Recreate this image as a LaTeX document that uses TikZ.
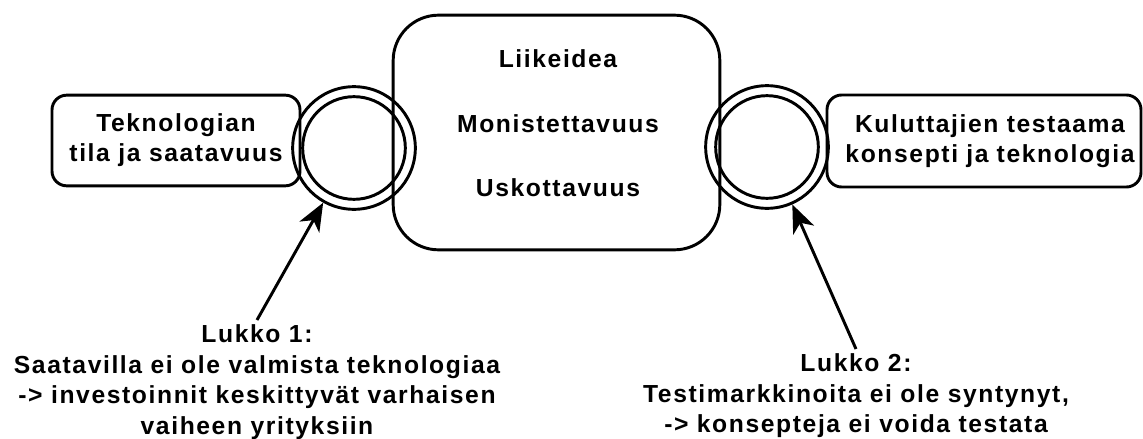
\documentclass[tikz,border=0pt]{standalone}
\usepackage{fontspec}
\setmainfont{Liberation Sans}[LetterSpace=6.5]
\usetikzlibrary{arrows.meta}

\begin{document}
\begin{tikzpicture}[x=0.75pt, y=-0.75pt,
  every node/.style={font=\bfseries\fontsize{18.5}{22.5}\selectfont, align=center},
  box/.style={draw, line width=2.2pt, rounded corners=11pt, inner sep=0pt},
  ringout/.style={draw, circle, line width=2.2pt, minimum size=92pt, inner sep=0pt},
  ringin/.style={draw, circle, line width=2.2pt, minimum size=77pt, inner sep=0pt},
  lock/.style={anchor=north, font=\bfseries\fontsize{18.5}{23}\selectfont},
  pointer/.style={-{Stealth[length=21pt,width=17pt,inset=6pt]}, line width=2.2pt}]
  \useasboundingbox (0,0) rectangle (1143,439);

  % the three boxes
  \node[box, minimum width=186pt, minimum height=68pt] (tech) at (176,140.5) {Teknologian\\tila ja saatavuus};
  \node[box, rounded corners=34pt, minimum width=245pt, minimum height=176pt] (idea) at (556.5,132.5) {};
  \node[font=\bfseries\fontsize{18.5}{48.5}\selectfont] (ideatext) at (558,123.5) {Liikeidea\\Monistettavuus\\Uskottavuus};
  \node[box, minimum width=235.5pt, minimum height=69pt, text width=230pt] (test) at (984,141) {\hspace*{9pt}Kuluttajien testaama\\\hspace*{9pt}konsepti ja teknologia};

  % the two locks, drawn as double rings
  \node[ringout] (lock1) at (354,148) {};
  \node[ringin] (lock1in) at (lock1) {};
  \node[ringout] (lock2) at (767,147) {};
  \node[ringin] (lock2in) at (lock2) {};

  % what blocks each lock
  \node[lock] (why1) at (257,320) {Lukko 1:\\Saatavilla ei ole valmista teknologiaa\\-> investoinnit keskittyvät varhaisen\\vaiheen yrityksiin};
  \node[lock] (why2) at (856,349) {Lukko 2:\\Testimarkkinoita ei ole syntynyt,\\-> konsepteja ei voida testata};

  \draw[pointer] (why1.north) -- (lock1);
  \draw[pointer] (why2.north) -- (lock2);
\end{tikzpicture}
\end{document}
